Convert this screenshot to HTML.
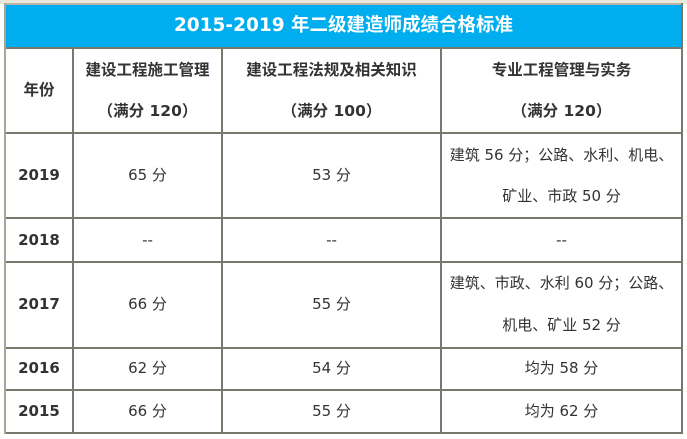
<!DOCTYPE html>
<html><head><meta charset="utf-8"><style>
html,body{margin:0;padding:0;background:#fff;}
#c{position:relative;width:687px;height:439px;overflow:hidden;font-family:"DejaVu Sans","Noto Sans CJK SC",sans-serif;color:#333;}
.h{position:absolute;height:2px;background:#7a776c;}
.v{position:absolute;width:2px;background:#7a776c;}
.t{position:absolute;text-align:center;font-size:15px;line-height:18px;white-space:nowrap;}
.b{font-weight:bold;}
.hd{font-size:15.5px;}
</style></head><body><div id="c">
<div style="position:absolute;left:0;top:0;width:687px;height:4px;background:#ece8dc"></div>
<div style="position:absolute;left:5px;top:4px;width:677px;height:43px;background:#00aeef"></div>
<div class="t b" style="left:5px;width:677px;top:15px;font-size:18.5px;line-height:22px;color:#fff">2015-2019 年二级建造师成绩合格标准</div>
<div class="h" style="left:5px;width:678px;top:3px;background:#b8b4a8"></div>
<div class="h" style="left:5px;width:678px;top:47px"></div>
<div class="h" style="left:5px;width:678px;top:132px"></div>
<div class="h" style="left:5px;width:678px;top:217px"></div>
<div class="h" style="left:5px;width:678px;top:261px"></div>
<div class="h" style="left:5px;width:678px;top:347px"></div>
<div class="h" style="left:5px;width:678px;top:389px"></div>
<div class="h" style="left:5px;width:678px;top:432px"></div>
<div class="v" style="left:4px;top:3px;height:431px;background:#a8a496"></div>
<div class="v" style="left:72px;top:47px;height:387px"></div>
<div class="v" style="left:221px;top:47px;height:387px"></div>
<div class="v" style="left:440px;top:47px;height:387px"></div>
<div class="v" style="left:681px;top:3px;height:431px"></div>

<div class="t b hd" style="left:6px;width:66px;top:81px">年份</div>
<div class="t b hd" style="left:74px;width:147px;top:61px">建设工程施工管理</div>
<div class="t b hd" style="left:74px;width:147px;top:102px">（满分 120）</div>
<div class="t b hd" style="left:223px;width:217px;top:61px">建设工程法规及相关知识</div>
<div class="t b hd" style="left:223px;width:217px;top:102px">（满分 100）</div>
<div class="t b hd" style="left:442px;width:239px;top:61px">专业工程管理与实务</div>
<div class="t b hd" style="left:442px;width:239px;top:102px">（满分 120）</div>

<div class="t b" style="left:6px;width:66px;top:166px">2019</div>
<div class="t" style="left:74px;width:147px;top:166px">65 分</div>
<div class="t" style="left:223px;width:217px;top:166px">53 分</div>
<div class="t" style="left:442px;width:239px;top:146px">建筑 56 分；公路、水利、机电、</div>
<div class="t" style="left:442px;width:239px;top:187px">矿业、市政 50 分</div>

<div class="t b" style="left:6px;width:66px;top:231px">2018</div>
<div class="t" style="left:74px;width:147px;top:231px">--</div>
<div class="t" style="left:223px;width:217px;top:231px">--</div>
<div class="t" style="left:442px;width:239px;top:231px">--</div>

<div class="t b" style="left:6px;width:66px;top:295px">2017</div>
<div class="t" style="left:74px;width:147px;top:295px">66 分</div>
<div class="t" style="left:223px;width:217px;top:295px">55 分</div>
<div class="t" style="left:442px;width:239px;top:274px">建筑、市政、水利 60 分；公路、</div>
<div class="t" style="left:442px;width:239px;top:316px">机电、矿业 52 分</div>

<div class="t b" style="left:6px;width:66px;top:359px">2016</div>
<div class="t" style="left:74px;width:147px;top:359px">62 分</div>
<div class="t" style="left:223px;width:217px;top:359px">54 分</div>
<div class="t" style="left:442px;width:239px;top:359px">均为 58 分</div>

<div class="t b" style="left:6px;width:66px;top:402px">2015</div>
<div class="t" style="left:74px;width:147px;top:402px">66 分</div>
<div class="t" style="left:223px;width:217px;top:402px">55 分</div>
<div class="t" style="left:442px;width:239px;top:402px">均为 62 分</div>
</div></body></html>
